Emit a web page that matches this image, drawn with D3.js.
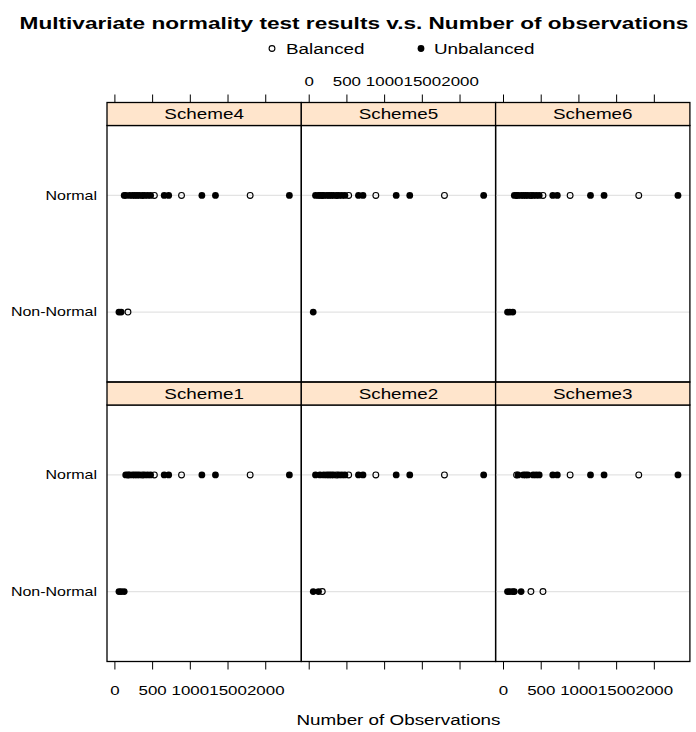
<!DOCTYPE html>
<html>
<head>
<meta charset="utf-8">
<script src="https://cdn.jsdelivr.net/npm/d3@7"></script>
<style>
  body { margin: 0; background: #fff; }
  text { font-family: "Liberation Sans", Arial, sans-serif; fill: #000; }
</style>
</head>
<body>
<svg id="chart" width="696" height="732"></svg>
<script>
// ---- data -------------------------------------------------------------
const schemes = ["Scheme1", "Scheme2", "Scheme3", "Scheme4", "Scheme5", "Scheme6"];
const outcomes = ["Non-Normal", "Normal"];
const designs = ["Balanced", "Unbalanced"];
const sampleSizes = [60, 90, 130, 150, 180, 200, 240, 270, 300, 330, 370, 400,
                     440, 480, 530, 660, 720, 890, 1160, 1340, 1800, 2320];
const sampleDesign = ["Unbalanced", "Unbalanced", "Unbalanced", "Unbalanced", "Balanced",
                      "Unbalanced", "Unbalanced", "Unbalanced", "Unbalanced", "Unbalanced",
                      "Balanced", "Unbalanced", "Unbalanced", "Unbalanced", "Balanced",
                      "Unbalanced", "Unbalanced", "Balanced", "Unbalanced", "Unbalanced",
                      "Balanced", "Unbalanced"];
// sample sizes for which the test rejected multivariate normality
const nonNormal1 = [60, 90, 130];
const nonNormal2 = [60, 130, 180];
const nonNormal3 = [60, 90, 130, 150, 240, 370, 530];
const nonNormal4 = [60, 90, 180];
const nonNormal5 = [60];
const nonNormal6 = [60, 90, 130];
const xTicks = [0, 500, 1000, 1500, 2000];

const nonNormalBy = {
  Scheme1: nonNormal1, Scheme2: nonNormal2, Scheme3: nonNormal3,
  Scheme4: nonNormal4, Scheme5: nonNormal5, Scheme6: nonNormal6
};

// ---- layout -----------------------------------------------------------
const SX = 1.3;            // horizontal text stretch
const BASE = 14.5, AXIS = 12.3, TICK = 13, TITLE = 17.4;
const left = 107, colW = 194.3;
const stripH = 23, panelH = 256.5;
const rowTop = [102.5, 382];  // row 0: Scheme4-6, row 1: Scheme1-3
const stripFill = "#ffe5cc";
const rFill = 3.4, rOpen = 2.9;

const svg = d3.select("#chart");

function label(g, x, y, str, size, anchor, weight) {
  return g.append("text")
    .attr("transform", `translate(${x},${y}) scale(${SX},1)`)
    .attr("text-anchor", anchor || "start")
    .attr("font-size", size)
    .attr("font-weight", weight || "normal")
    .text(str);
}

// lattice-style padded numeric range
const ext = d3.extent(sampleSizes);
const pad = 0.07 * (ext[1] - ext[0]);
const x = d3.scaleLinear().domain([ext[0] - pad, ext[1] + pad]).range([0, colW]);
const y = d3.scaleLinear().domain([0.4, outcomes.length + 0.6]).range([panelH, 0]);
const yPos = o => y(outcomes.indexOf(o) + 1);

// ---- title & key --------------------------------------------------------
label(svg, 354, 28.5, "Multivariate normality test results v.s. Number of observations",
      TITLE, "middle", "bold");

const keyItems = [
  { d: designs[0], cx: 272, tx: 286 },
  { d: designs[1], cx: 421, tx: 434 }
];
keyItems.forEach(k => {
  const open = k.d === "Balanced";
  svg.append("circle").attr("cx", k.cx).attr("cy", 48.5).attr("r", open ? rOpen : rFill)
    .attr("fill", open ? "none" : "#000")
    .attr("stroke", open ? "#000" : "none").attr("stroke-width", 1.1);
  label(svg, k.tx, 53.5, k.d, BASE, "start");
});

// ---- panels -------------------------------------------------------------
schemes.forEach((s, i) => {
  const col = i % 3;
  const row = i < 3 ? 1 : 0;
  const x0 = left + col * colW;
  const sTop = rowTop[row];
  const pTop = sTop + stripH;
  const g = svg.append("g").attr("transform", `translate(${x0},${pTop})`);

  // reference lines
  g.selectAll("line.ref").data(outcomes).join("line")
    .attr("class", "ref")
    .attr("x1", 0).attr("x2", colW)
    .attr("y1", d => yPos(d)).attr("y2", d => yPos(d))
    .attr("stroke", "#e3e3e3").attr("stroke-width", 1.2);

  // points
  const nn = nonNormalBy[s];
  const pts = sampleSizes.map((n, k) => ({
    n, design: sampleDesign[k], result: nn.includes(n) ? "Non-Normal" : "Normal"
  }));
  g.selectAll("circle.pt").data(pts).join("circle")
    .attr("class", "pt")
    .attr("cx", d => x(d.n))
    .attr("cy", d => yPos(d.result))
    .attr("r", d => d.design === "Balanced" ? rOpen : rFill)
    .attr("fill", d => d.design === "Balanced" ? "none" : "#000")
    .attr("stroke", d => d.design === "Balanced" ? "#000" : "none")
    .attr("stroke-width", 1.1);

  // panel frame
  g.append("rect").attr("x", 0).attr("y", 0).attr("width", colW).attr("height", panelH)
    .attr("fill", "none").attr("stroke", "#000").attr("stroke-width", 1.3);

  // strip
  svg.append("rect").attr("x", x0).attr("y", sTop).attr("width", colW).attr("height", stripH)
    .attr("fill", stripFill).attr("stroke", "#000").attr("stroke-width", 1.3);
  label(svg, x0 + colW / 2, sTop + stripH / 2 + 5.2, s, BASE, "middle");

  // y labels on the left column
  if (col === 0) {
    outcomes.forEach(o => label(svg, 97, pTop + yPos(o) + 4.4, o, AXIS, "end"));
  }
});

// ---- x axes -------------------------------------------------------------
for (let col = 0; col < 3; col++) {
  const x0 = left + col * colW;
  const top = svg.append("g").attr("transform", `translate(${x0},${rowTop[0]})`)
    .call(d3.axisTop(x).tickValues(xTicks).tickSize(8).tickPadding(9)
      .tickFormat(col === 1 ? d3.format("d") : () => ""));
  const bottom = svg.append("g").attr("transform", `translate(${x0},${rowTop[1] + stripH + panelH})`)
    .call(d3.axisBottom(x).tickValues(xTicks).tickSize(8).tickPadding(16)
      .tickFormat(col !== 1 ? d3.format("d") : () => ""));
  [top, bottom].forEach(a => {
    a.select(".domain").remove();
    a.attr("font-size", TICK).attr("font-family", null);
    a.selectAll(".tick line").attr("stroke", "#000");
    a.selectAll(".tick text").attr("transform", `scale(${SX},1)`).attr("fill", "#000");
  });
}

label(svg, left + 1.5 * colW, 725, "Number of Observations", BASE, "middle");
</script>
</body>
</html>
